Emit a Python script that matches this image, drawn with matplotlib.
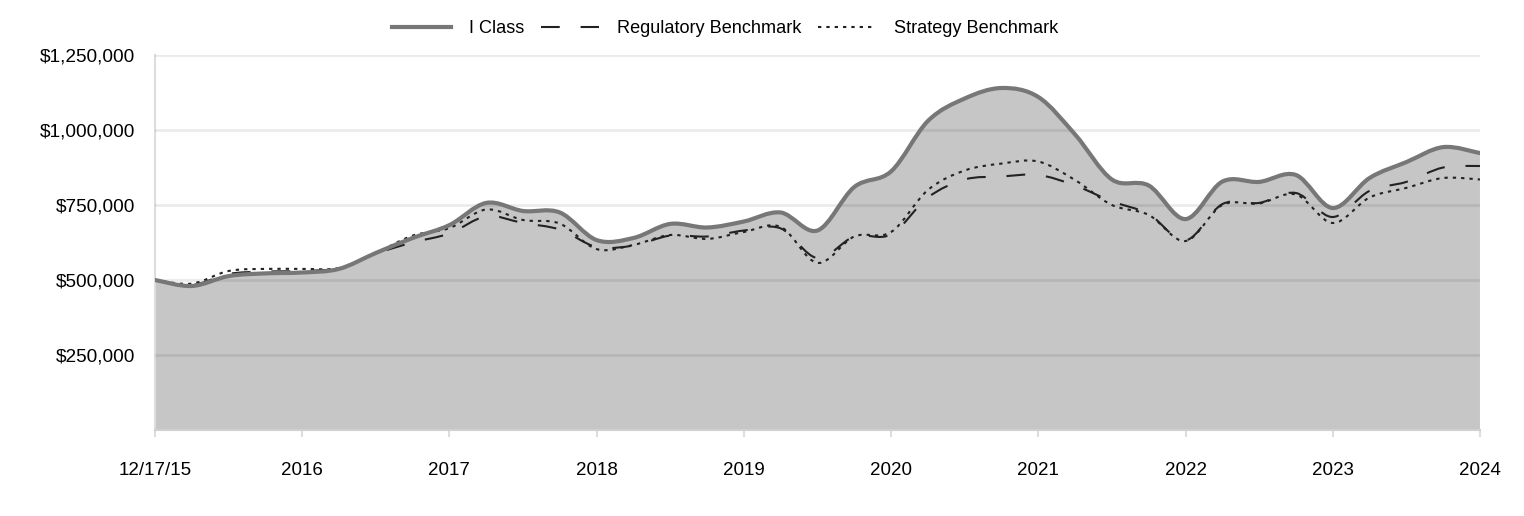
"""Growth of $500,000 chart: I Class vs benchmarks."""

import matplotlib
matplotlib.use("Agg")
import matplotlib.pyplot as plt
from matplotlib.path import Path
from matplotlib.patches import PathPatch
from matplotlib.lines import Line2D
from matplotlib.ticker import FuncFormatter

plt.rcParams["font.family"] = ["Liberation Sans", "DejaVu Sans"]

# quarterly observations, 12/17/15 .. 2024
tick_labels = ["12/17/15", "2016", "2017", "2018", "2019", "2020", "2021", "2022", "2023", "2024"]

i_class = [500, 480, 513, 522, 525, 537, 590, 640, 683, 757,
           730, 725, 633, 640, 687, 675, 695, 725, 665, 810,
           862, 1030, 1105, 1140, 1110, 985, 835, 815, 703, 828,
           827, 850, 740, 840, 893, 943, 923]
regulatory = [500, 483, 520, 528, 530, 540, 588, 625, 655, 712,
              690, 668, 610, 615, 648, 645, 665, 672, 573, 645,
              652, 775, 835, 845, 850, 815, 762, 720, 632, 753,
              757, 790, 710, 797, 827, 875, 880]
strategy = [500, 488, 530, 537, 537, 540, 590, 648, 673, 735,
            700, 688, 603, 617, 650, 637, 660, 677, 557, 645,
            660, 800, 865, 888, 895, 833, 750, 717, 630, 750,
            755, 785, 690, 775, 807, 840, 835]


def smooth_vertices(ys):
    """Bezier vertices (Catmull-Rom style, like a spreadsheet smoothed line)."""
    pts = [(float(i), y * 1000.0) for i, y in enumerate(ys)]
    n = len(pts)
    verts = [pts[0]]
    codes = [Path.MOVETO]
    for i in range(n - 1):
        p0 = pts[max(i - 1, 0)]
        p1 = pts[i]
        p2 = pts[i + 1]
        p3 = pts[min(i + 2, n - 1)]
        c1 = (p1[0] + (p2[0] - p0[0]) / 6, p1[1] + (p2[1] - p0[1]) / 6)
        c2 = (p2[0] - (p3[0] - p1[0]) / 6, p2[1] - (p3[1] - p1[1]) / 6)
        verts += [c1, c2, p2]
        codes += [Path.CURVE4] * 3
    return verts, codes


fig = plt.figure(figsize=(15.24, 5.16), dpi=100)
ax = fig.add_axes([0.1017, 0.1667, 0.8694, 0.7267])

n = len(i_class)

# area under I Class
v, c = smooth_vertices(i_class)
fill_verts = v + [(n - 1, 0), (0, 0), v[0]]
fill_codes = c + [Path.LINETO, Path.LINETO, Path.CLOSEPOLY]
ax.add_patch(PathPatch(Path(fill_verts, fill_codes), facecolor="#c6c6c6", edgecolor="none", zorder=1))

ax.add_patch(PathPatch(Path(v, c), facecolor="none", edgecolor="#777777", lw=3.0,
                       capstyle="round", joinstyle="round", zorder=5))
v, c = smooth_vertices(regulatory)
ax.add_patch(PathPatch(Path(v, c), facecolor="none", edgecolor="#222222", lw=1.5,
                       linestyle=(0, (9, 10)), zorder=4))
v, c = smooth_vertices(strategy)
ax.add_patch(PathPatch(Path(v, c), facecolor="none", edgecolor="#222222", lw=1.5,
                       linestyle=(0, (1.6, 2.4)), zorder=4))

ax.set_xlim(0, n - 1)
ax.set_ylim(0, 1_250_000)
ax.set_yticks([250_000, 500_000, 750_000, 1_000_000, 1_250_000])
ax.yaxis.set_major_formatter(FuncFormatter(lambda val, pos: f"${val:,.0f}"))
ax.set_xticks(range(0, n, 4))
ax.set_xticklabels(tick_labels)

for y in [250_000, 500_000, 750_000, 1_000_000, 1_250_000]:
    ax.axhline(y, color="black", alpha=0.08, lw=2, zorder=3)

for s in ["top", "right"]:
    ax.spines[s].set_visible(False)
ax.spines["left"].set_color("#dddddd")
ax.spines["bottom"].set_color("#d0d0d0")
ax.spines["left"].set_linewidth(1.5)
ax.spines["bottom"].set_linewidth(1.5)
ax.tick_params(axis="y", length=0, pad=14, labelsize=13.7)
ax.tick_params(axis="x", length=5, width=1.5, color="#dddddd", pad=18, labelsize=13.5)

handles = [
    Line2D([], [], color="#777777", lw=3.0),
    Line2D([], [], color="#222222", lw=1.5, linestyle=(0, (9, 10))),
    Line2D([], [], color="#222222", lw=1.5, linestyle=(0, (1.6, 2.4))),
]
fig.legend(handles, ["I Class", "Regulatory Benchmark", "Strategy Benchmark"],
           loc="center", bbox_to_anchor=(0.476, 0.945), ncol=3, frameon=False,
           fontsize=13.1, handlelength=3.2, handletextpad=1.0, columnspacing=0.9)

fig.savefig("out.png", dpi=100)
